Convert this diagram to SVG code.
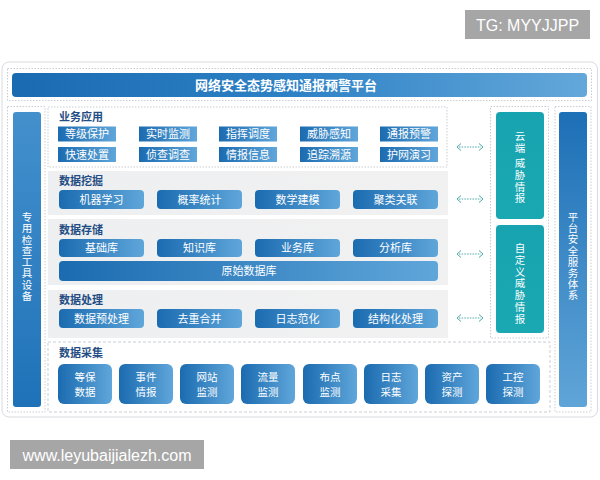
<svg xmlns="http://www.w3.org/2000/svg" width="600" height="480" viewBox="0 0 600 480">
<defs>
<linearGradient id="gBtn" x1="0" y1="0" x2="1" y2="0"><stop offset="0" stop-color="#1b6bb0"/><stop offset="1" stop-color="#5fa6da"/></linearGradient>
<linearGradient id="gTitle" x1="0" y1="0" x2="1" y2="0"><stop offset="0" stop-color="#1a6ab1"/><stop offset="0.5" stop-color="#2f82c6"/><stop offset="1" stop-color="#64a8da"/></linearGradient>
<linearGradient id="gLeft" x1="0" y1="0" x2="0" y2="1"><stop offset="0" stop-color="#4490cd"/><stop offset="1" stop-color="#1f72b8"/></linearGradient>
<linearGradient id="gRight" x1="0" y1="0" x2="0" y2="1"><stop offset="0" stop-color="#1d6fb6"/><stop offset="1" stop-color="#60a5d8"/></linearGradient>
<linearGradient id="gTeal" x1="0" y1="0" x2="0" y2="1"><stop offset="0" stop-color="#17a4b0"/><stop offset="1" stop-color="#1aa8b3"/></linearGradient>
<linearGradient id="gBand" x1="0" y1="0" x2="1" y2="0"><stop offset="0" stop-color="#eeeff0"/><stop offset="1" stop-color="#f1f1f2"/></linearGradient>
</defs>
<style>
text{font-family:"Noto Sans CJK SC","Noto Sans",sans-serif}
.bt{fill:#fff;font-size:11px;text-anchor:middle}
.tt{fill:#fff;font-size:10.5px;text-anchor:middle}
.lbl{fill:#1f4d84;font-size:11px;font-weight:bold}
.vt{fill:#fff;font-size:10.5px;writing-mode:vertical-rl;text-orientation:upright}
.b{fill:url(#gBtn)}
.dot{fill:none;stroke:#c9cdd3;stroke-width:1;stroke-dasharray:1.5 1.5}
.dash{fill:none;stroke:#c9cdd3;stroke-width:1;stroke-dasharray:3 2}
.band{fill:url(#gBand)}
.arr{fill:none;stroke:#4ea9ab;stroke-width:1}
.arrd{fill:none;stroke:#4ea9ab;stroke-width:1;stroke-dasharray:1.5 1.2}
.wm{fill:#fff;font-family:"Liberation Sans",Arial,sans-serif;font-size:16px}
</style>
<rect width="600" height="480" fill="#fff"/>
<g id="watermark-tg"><rect x="465" y="10" width="125" height="29" fill="#a6a6a6"/><text class="wm" x="527.5" y="30.5" text-anchor="middle">TG: MYYJJPP</text></g>
<g id="watermark-url"><rect x="10" y="440" width="194" height="29" fill="#a6a6a6"/><text class="wm" x="107" y="460.5" text-anchor="middle">www.leyubaijialezh.com</text></g>
<rect x="2" y="62" width="595.5" height="355" rx="7" fill="#fff" stroke="#d8dadd" stroke-width="1"/>
<rect class="dot" x="7.5" y="68.5" width="584" height="32"/>
<g id="title"><rect x="12" y="73" width="575" height="24" rx="4" fill="url(#gTitle)"/><text x="286" y="89.5" fill="#fff" font-size="13" font-weight="bold" text-anchor="middle">网络安全态势感知通报预警平台</text></g>
<g id="left-col"><rect class="dot" x="7.5" y="106.5" width="37.5" height="305.5"/><rect x="13" y="112" width="28" height="295" rx="3" fill="url(#gLeft)"/>
<text class="vt" x="27" y="211.75" letter-spacing="0.8">专用检查工具设备</text></g>
<g id="right-col"><rect class="dot" x="555" y="106.5" width="36" height="305.5"/><rect x="559" y="112" width="28" height="295" rx="3" fill="url(#gRight)"/>
<text class="vt" x="573" y="211.75" letter-spacing="0.7">平台安全服务体系</text></g>
<rect class="dot" x="490.5" y="106.5" width="58" height="231.5"/>
<g id="cloud-intel"><rect x="496" y="112" width="48" height="107" rx="4" fill="url(#gTeal)"/>
<text class="vt" x="520" y="130.75" letter-spacing="1.5">云端</text><text class="vt" x="520" y="157.75" letter-spacing="1.3">威胁情报</text></g>
<g id="custom-intel"><rect x="496" y="225" width="48" height="108" rx="4" fill="url(#gTeal)"/>
<text class="vt" x="520" y="242.75" letter-spacing="1.3">自定义威胁情报</text></g>
<g id="biz-app"><rect class="dot" x="48" y="107" width="399" height="60"/><text class="lbl" x="59" y="121">业务应用</text>
<rect class="b" x="58" y="126.5" width="58" height="15"/><text class="bt" x="87" y="138">等级保护</text>
<rect class="b" x="139" y="126.5" width="58" height="15"/><text class="bt" x="168" y="138">实时监测</text>
<rect class="b" x="219" y="126.5" width="58" height="15"/><text class="bt" x="248" y="138">指挥调度</text>
<rect class="b" x="300" y="126.5" width="58" height="15"/><text class="bt" x="329" y="138">威胁感知</text>
<rect class="b" x="380" y="126.5" width="58" height="15"/><text class="bt" x="409" y="138">通报预警</text>
<rect class="b" x="58" y="147" width="58" height="15"/><text class="bt" x="87" y="158.5">快速处置</text>
<rect class="b" x="139" y="147" width="58" height="15"/><text class="bt" x="168" y="158.5">侦查调查</text>
<rect class="b" x="219" y="147" width="58" height="15"/><text class="bt" x="248" y="158.5">情报信息</text>
<rect class="b" x="300" y="147" width="58" height="15"/><text class="bt" x="329" y="158.5">追踪溯源</text>
<rect class="b" x="380" y="147" width="58" height="15"/><text class="bt" x="409" y="158.5">护网演习</text></g>
<g id="data-mining"><rect class="band" x="48" y="171" width="400" height="44"/><text class="lbl" x="59" y="185">数据挖掘</text>
<rect class="b" x="59" y="190" width="85" height="19" rx="4"/><text class="bt" x="101.5" y="203.5">机器学习</text>
<rect class="b" x="157" y="190" width="85" height="19" rx="4"/><text class="bt" x="199.5" y="203.5">概率统计</text>
<rect class="b" x="255" y="190" width="85" height="19" rx="4"/><text class="bt" x="297.5" y="203.5">数学建模</text>
<rect class="b" x="353" y="190" width="85" height="19" rx="4"/><text class="bt" x="395.5" y="203.5">聚类关联</text></g>
<g id="data-storage"><rect class="band" x="48" y="219" width="400" height="66"/><text class="lbl" x="59" y="234">数据存储</text>
<rect class="b" x="59" y="239" width="85" height="18" rx="4"/><text class="bt" x="101.5" y="252">基础库</text>
<rect class="b" x="157" y="239" width="85" height="18" rx="4"/><text class="bt" x="199.5" y="252">知识库</text>
<rect class="b" x="255" y="239" width="85" height="18" rx="4"/><text class="bt" x="297.5" y="252">业务库</text>
<rect class="b" x="353" y="239" width="85" height="18" rx="4"/><text class="bt" x="395.5" y="252">分析库</text>
<rect class="b" x="59" y="261" width="379" height="20" rx="4"/><text class="bt" x="249" y="275">原始数据库</text></g>
<g id="data-processing"><rect class="band" x="48" y="290" width="400" height="48"/><text class="lbl" x="59" y="304">数据处理</text>
<rect class="b" x="59" y="309" width="85" height="19" rx="4"/><text class="bt" x="101.5" y="322.5">数据预处理</text>
<rect class="b" x="157" y="309" width="85" height="19" rx="4"/><text class="bt" x="199.5" y="322.5">去重合并</text>
<rect class="b" x="255" y="309" width="85" height="19" rx="4"/><text class="bt" x="297.5" y="322.5">日志范化</text>
<rect class="b" x="353" y="309" width="85" height="19" rx="4"/><text class="bt" x="395.5" y="322.5">结构化处理</text></g>
<g id="data-collection"><rect class="dash" x="48" y="342" width="502" height="70"/><text class="lbl" x="59" y="357">数据采集</text>
<rect class="b" x="58" y="364" width="54" height="40" rx="6"/><text class="tt"><tspan x="85" y="380.5">等保</tspan><tspan x="85" y="395.5">数据</tspan></text>
<rect class="b" x="119" y="364" width="54" height="40" rx="6"/><text class="tt"><tspan x="146" y="380.5">事件</tspan><tspan x="146" y="395.5">情报</tspan></text>
<rect class="b" x="180" y="364" width="54" height="40" rx="6"/><text class="tt"><tspan x="207" y="380.5">网站</tspan><tspan x="207" y="395.5">监测</tspan></text>
<rect class="b" x="241" y="364" width="54" height="40" rx="6"/><text class="tt"><tspan x="268" y="380.5">流量</tspan><tspan x="268" y="395.5">监测</tspan></text>
<rect class="b" x="303" y="364" width="54" height="40" rx="6"/><text class="tt"><tspan x="330" y="380.5">布点</tspan><tspan x="330" y="395.5">监测</tspan></text>
<rect class="b" x="364" y="364" width="54" height="40" rx="6"/><text class="tt"><tspan x="391" y="380.5">日志</tspan><tspan x="391" y="395.5">采集</tspan></text>
<rect class="b" x="425" y="364" width="54" height="40" rx="6"/><text class="tt"><tspan x="452" y="380.5">资产</tspan><tspan x="452" y="395.5">探测</tspan></text>
<rect class="b" x="486" y="364" width="54" height="40" rx="6"/><text class="tt"><tspan x="513" y="380.5">工控</tspan><tspan x="513" y="395.5">探测</tspan></text></g>
<g id="connectors">
<path class="arrd" d="M459 147H481M459 199H481M459 254H481M459 318H481"/>
<path class="arr" d="M461 143.5L457 147L461 150.5M479 143.5L483 147L479 150.5M461 195.5L457 199L461 202.5M479 195.5L483 199L479 202.5M461 250.5L457 254L461 257.5M479 250.5L483 254L479 257.5M461 314.5L457 318L461 321.5M479 314.5L483 318L479 321.5"/>
</g>
</svg>
